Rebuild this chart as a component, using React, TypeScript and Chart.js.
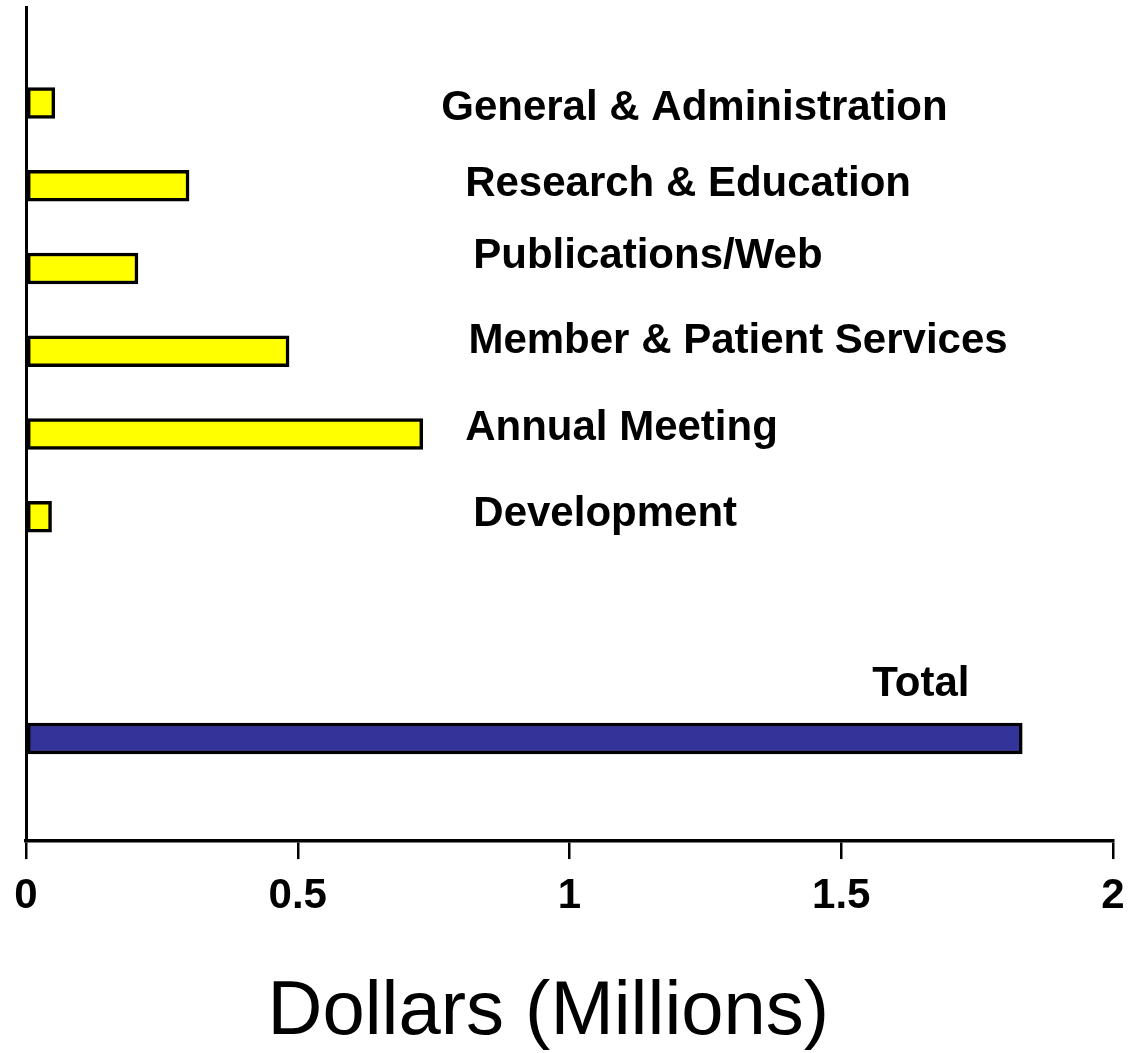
import React, { useEffect, useRef } from "react";
import { Chart, registerables } from "chart.js";

Chart.register(...registerables);

// ---- data ----
const categories = [
  "General & Administration",
  "Research & Education",
  "Publications/Web",
  "Member & Patient Services",
  "Annual Meeting",
  "Development",
  "Total",
];
const amounts = [0.053, 0.3, 0.206, 0.484, 0.73, 0.047, 1.833];
const xTicks = [0, 0.5, 1, 1.5, 2];
const xTickLabels = ["0", "0.5", "1", "1.5", "2"];
const axisTitle = "Dollars (Millions)";

// ---- layout (rows on the vertical scale, label anchors in scale units) ----
const ROWS = [1, 2, 3, 4, 5, 6, 8.68];
const LABEL_ANCHORS = [
  { x: 0.764, row: 1.06 },
  { x: 0.808, row: 1.99 },
  { x: 0.823, row: 2.85 },
  { x: 0.814, row: 3.88 },
  { x: 0.808, row: 4.93 },
  { x: 0.823, row: 5.97 },
  { x: 1.557, row: 8.03 },
];
const BAR_COLORS = ["#FFFF00", "#FFFF00", "#FFFF00", "#FFFF00", "#FFFF00", "#FFFF00", "#333399"];
const FONT = "'Liberation Sans', Arial, Helvetica, sans-serif";

const labelPlugin = {
  id: "barLabels",
  afterDraw(chart: any) {
    const { ctx, scales } = chart;
    const xs = scales.x;
    const ys = scales.y;
    ctx.save();
    ctx.fillStyle = "#000";
    ctx.font = `bold 42px ${FONT}`;
    ctx.textAlign = "left";
    ctx.textBaseline = "middle";
    categories.forEach((c, i) => {
      const a = LABEL_ANCHORS[i];
      ctx.fillText(c, xs.getPixelForValue(a.x), ys.getPixelForValue(a.row));
    });
    ctx.font = `normal 76px ${FONT}`;
    ctx.textAlign = "center";
    ctx.textBaseline = "alphabetic";
    ctx.fillText(axisTitle, xs.getPixelForValue(0.961), chart.chartArea.bottom + 193);
    ctx.restore();
  },
};

export default function App() {
  const ref = useRef<HTMLCanvasElement | null>(null);
  useEffect(() => {
    if (!ref.current) return;
    const chart = new Chart(ref.current, {
      type: "bar",
      data: {
        datasets: [
          {
            data: categories.map((c, i) => ({ x: amounts[i], y: ROWS[i] })) as any,
            backgroundColor: BAR_COLORS,
            borderColor: "#000",
            borderWidth: 3.5,
            borderSkipped: false,
            barThickness: 31,
          },
        ],
      },
      options: {
        indexAxis: "y",
        animation: false,
        responsive: false,
        devicePixelRatio: 1,
        layout: { padding: { left: 26, top: 7, right: 23, bottom: 120 } },
        plugins: {
          legend: { display: false },
          tooltip: { enabled: false },
          title: { display: false },
        },
        scales: {
          x: {
            type: "linear",
            position: "bottom",
            min: 0,
            max: 2,
            afterBuildTicks: (s: any) => {
              s.ticks = xTicks.map((v) => ({ value: v }));
            },
            ticks: {
              autoSkip: false,
              maxRotation: 0,
              color: "#000",
              padding: 0,
              font: { family: FONT, weight: "bold", size: 42, lineHeight: 1.76 },
              callback: (v: any) => xTickLabels[xTicks.indexOf(Number(v))],
            },
            grid: {
              display: true,
              drawOnChartArea: false,
              drawTicks: true,
              tickLength: 18,
              color: "#000",
              lineWidth: 2.5,
            },
            border: { display: true, color: "#000", width: 3.5 },
          },
          y: {
            type: "linear",
            reverse: true,
            offset: false,
            min: -0.16,
            max: 9.92,
            ticks: { display: false },
            grid: { display: false, drawTicks: false },
            border: { display: true, color: "#000", width: 3 },
            afterFit: (s: any) => {
              s.width = 0;
            },
          },
        },
      } as any,
      plugins: [labelPlugin],
    });
    return () => chart.destroy();
  }, []);
  return (
    <div style={{ position: "absolute", left: 0, top: 0, width: 1136, height: 1053, background: "#fff" }}>
      <canvas ref={ref} width={1136} height={1053} style={{ display: "block" }} />
    </div>
  );
}
